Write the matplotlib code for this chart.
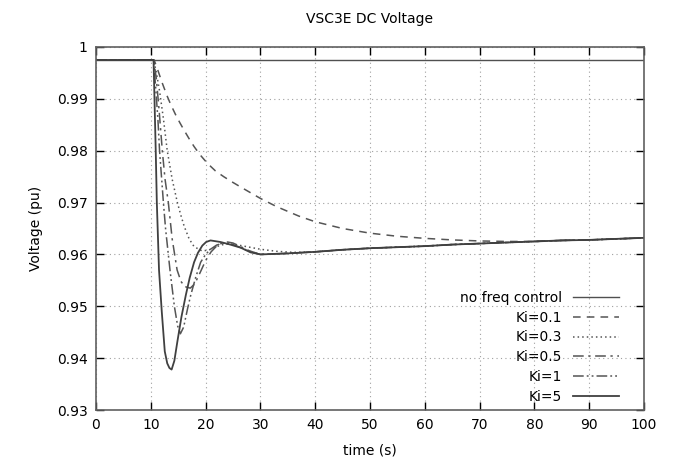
import matplotlib
matplotlib.use("Agg")
import matplotlib.pyplot as plt

# ---- data ----
t_nofreq = [0, 100]
v_nofreq = [0.9975, 0.9975]

t_tail = [30, 35, 40, 45, 50, 55, 60, 65, 70, 75, 80, 85, 90, 95, 100]
v_tail = [0.9600, 0.9602, 0.9605, 0.9609, 0.9612, 0.9614, 0.9616, 0.9619,
          0.9621, 0.9623, 0.9625, 0.9627, 0.9628, 0.9630, 0.9632]

t_k01 = [0, 10.6, 11.2, 12, 13, 13.6, 14.5, 15.3, 16.1, 17, 17.9, 19, 20.3,
         21.8, 23.3, 24.8, 26.4, 28.2, 30, 33, 37, 40, 45, 50, 55, 60, 65,
         70, 75, 80, 85, 90, 95, 100]
v_k01 = [0.9975, 0.9975, 0.9958, 0.9933, 0.9905, 0.9890, 0.9870, 0.9854,
         0.9839, 0.9823, 0.9808, 0.9792, 0.9776, 0.9761, 0.9750, 0.9740,
         0.9730, 0.9719, 0.9708, 0.9692, 0.9674, 0.9663, 0.9650, 0.9641,
         0.9635, 0.9631, 0.9628, 0.9626, 0.9625, 0.9625, 0.9627, 0.9628,
         0.9630, 0.9632]

t_k03 = [0, 10.5, 11, 11.6, 12.3, 13.0, 13.9, 14.85, 15.5, 16.1, 17, 17.9,
         19.3, 20.5, 22, 23.5, 25, 28, 30, 33, 36, 40]
v_k03 = [0.9975, 0.9975, 0.9952, 0.9915, 0.9862, 0.9800, 0.9745, 0.9700,
         0.9675, 0.9654, 0.9630, 0.9615, 0.9607, 0.9608, 0.9615, 0.9620,
         0.9620, 0.9614, 0.9610, 0.9606, 0.9604, 0.9605]

t_k05 = [0, 10.5, 11, 11.5, 12.1, 12.6, 13.2, 13.9, 14.8, 15.5, 16.2, 17.2,
         18, 19, 20, 21, 22, 23, 24, 25, 26, 28, 30]
v_k05 = [0.9975, 0.9975, 0.9940, 0.9880, 0.9800, 0.9745, 0.9700, 0.9630,
         0.9570, 0.9548, 0.9538, 0.9535, 0.9543, 0.9565, 0.9588, 0.9605,
         0.9616, 0.9622, 0.9624, 0.9622, 0.9617, 0.9607, 0.9600]

t_k1 = [0, 10.5, 10.9, 11.3, 11.6, 12.3, 12.7, 13.5, 14.3, 14.9, 15.4, 16,
        16.7, 17.3, 18.2, 19.1, 20, 20.9, 22, 23.3, 24.5, 26, 28, 30]
v_k1 = [0.9975, 0.9975, 0.9920, 0.9860, 0.9800, 0.9700, 0.9649, 0.9570,
        0.9500, 0.9462, 0.9447, 0.9460, 0.9495, 0.9522, 0.9556, 0.9585,
        0.9600, 0.9610, 0.9618, 0.9622, 0.9621, 0.9615, 0.9606, 0.9600]

t_k5 = [0, 10.5, 10.9, 11.1, 11.5, 12.0, 12.55, 13.0, 13.4, 13.8, 14.3, 14.85,
        15.6, 16.4, 17.1, 17.9, 18.6, 19.4, 20.1, 20.9, 22.7, 24.5, 26.4,
        28.2, 30]
v_k5 = [0.9975, 0.9975, 0.9800, 0.9700, 0.9570, 0.9490, 0.9413, 0.9390,
        0.9381, 0.9378, 0.9395, 0.9432, 0.9480, 0.9522, 0.9555, 0.9585,
        0.9603, 0.9617, 0.9624, 0.9627, 0.9624, 0.9619, 0.9613, 0.9604,
        0.9600]

labels = ["no freq control", "Ki=0.1", "Ki=0.3", "Ki=0.5", "Ki=1", "Ki=5"]

x_ticks = [0, 10, 20, 30, 40, 50, 60, 70, 80, 90, 100]
y_ticks = [0.93, 0.94, 0.95, 0.96, 0.97, 0.98, 0.99, 1.0]
y_tick_labels = ["0.93", "0.94", "0.95", "0.96", "0.97", "0.98", "0.99", "1"]


def extend(t, v):
    """append the common tail after the last read point"""
    tt = list(t) + [x for x in t_tail if x > t[-1]]
    vv = list(v) + [y for x, y in zip(t_tail, v_tail) if x > t[-1]]
    return tt, vv


plt.rcParams['font.family'] = ['DejaVu Sans']
fig = plt.figure(figsize=(6.76, 4.72), dpi=100)
ax = fig.add_axes([96 / 676, 1 - 410 / 472, 548 / 676, 363 / 472])

styles = [
    dict(color='#505050', lw=1.0, ls='-'),
    dict(color='#555555', lw=1.1, ls=(0, (5, 4))),
    dict(color='#555555', lw=1.1, ls=(0, (1, 2))),
    dict(color='#555555', lw=1.1, ls=(0, (7, 3, 1.5, 3))),
    dict(color='#555555', lw=1.1, ls=(0, (7, 2, 1.2, 2, 1.2, 2))),
    dict(color='#404040', lw=1.3, ls='-'),
]

series = [
    (t_nofreq, v_nofreq),
    extend(t_k01, v_k01),
    extend(t_k03, v_k03),
    extend(t_k05, v_k05),
    extend(t_k1, v_k1),
    extend(t_k5, v_k5),
]

for (t, v), lab, st in zip(series, labels, styles):
    ax.plot(t, v, label=lab, **st)

ax.set_xlim(0, 100)
ax.set_ylim(0.93, 1.0)
ax.set_xticks(x_ticks)
ax.set_yticks(y_ticks)
ax.set_yticklabels(y_tick_labels)
ax.tick_params(direction='in', top=True, right=True, length=6, width=1,
               labelsize=10, pad=6, color='black')
ax.grid(True, color='#a0a0a0', linestyle=(0, (1, 3)), linewidth=0.8)
for s in ax.spines.values():
    s.set_color('#606060')
    s.set_linewidth(1.2)

ax.set_title("VSC3E DC Voltage", fontsize=10, pad=17)
ax.set_xlabel("time (s)", fontsize=10, labelpad=8)
ax.set_ylabel("Voltage (pu)", fontsize=10, labelpad=10)

leg = ax.legend(loc='lower right', bbox_to_anchor=(0.975, -0.014), frameon=False,
                markerfirst=False, fontsize=10, handlelength=3.3,
                handletextpad=0.8, labelspacing=0.42, borderpad=0.3)

fig.savefig("out.png", dpi=100)
